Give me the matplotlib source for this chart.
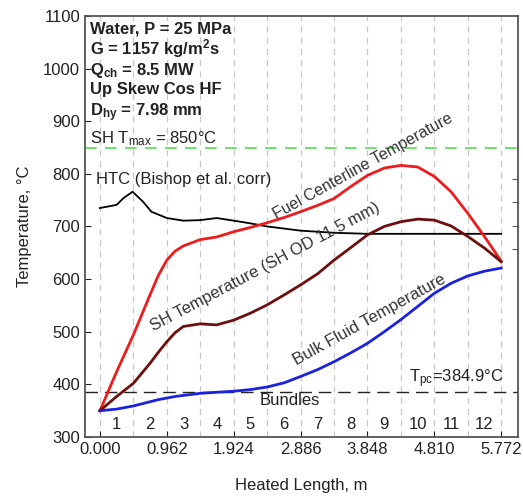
import matplotlib
matplotlib.use("Agg")
import matplotlib.pyplot as plt

plt.rcParams['font.family'] = ['Liberation Sans', 'DejaVu Sans']
plt.rcParams['mathtext.fontset'] = 'custom'
plt.rcParams['mathtext.rm'] = 'Liberation Sans'
plt.rcParams['mathtext.it'] = 'Liberation Sans'
plt.rcParams['mathtext.bf'] = 'Liberation Sans:bold'

# ---- data ----
x_len = [0.0, 0.24, 0.481, 0.72, 0.84, 0.962, 1.08, 1.20, 1.443, 1.68, 1.924, 2.16, 2.405, 2.65,
         2.886, 3.13, 3.367, 3.61, 3.848, 4.09, 4.329, 4.57, 4.810, 5.05, 5.291, 5.53, 5.772]
fuel_T = [350, 424, 494, 570, 607, 636, 653, 663, 675, 680, 690, 698, 707, 717,
          728, 740, 753, 776, 797, 811, 816, 813, 795, 766, 725, 681, 634]
sh_T = [350, 377, 402, 440, 461, 481, 498, 510, 515, 513, 522, 535, 551, 570,
        589, 610, 636, 660, 684, 700, 709, 714, 712, 701, 681, 659, 633]
bulk_T = [350, 353, 359, 367, 371, 374, 377, 379, 383, 385, 387, 390, 395, 403,
          415, 428, 443, 460, 478, 500, 523, 548, 573, 592, 606, 615, 621]
htc_x = [0.0, 0.24, 0.34, 0.47, 0.62, 0.74, 0.962, 1.20, 1.443, 1.68, 1.924, 2.16, 2.405,
         2.65, 2.886, 3.13, 3.367, 3.61, 3.848, 4.329, 4.810, 5.291, 5.772]
htc_T = [735, 741, 754, 766, 747, 728, 716, 711, 712, 716, 711, 706, 700,
         696, 692, 690, 688, 687, 686, 686, 686, 686, 686]

x_ticks = [0.000, 0.962, 1.924, 2.886, 3.848, 4.810, 5.772]
x_ticklabels = ["0.000", "0.962", "1.924", "2.886", "3.848", "4.810", "5.772"]
y_ticks = [300, 400, 500, 600, 700, 800, 900, 1000, 1100]
bundle_edges = [0.0, 0.481, 0.962, 1.443, 1.924, 2.405, 2.886, 3.367, 3.848, 4.329, 4.810, 5.291, 5.772]
bundle_labels = [str(i) for i in range(1, 13)]
sh_tmax = 850
t_pc = 384.9
right_ticks = [657, 701, 747, 790]

# ---- figure ----
fig = plt.figure(figsize=(5.23, 4.97), dpi=100)
ax = fig.add_axes([0.1625, 0.1207, 0.8275, 0.8473])
ax.set_xlim(-0.215, 6.01)
ax.set_ylim(300, 1100)

for xe in bundle_edges:
    ax.axvline(xe, color='#c8c8c8', lw=0.9, ls=(0, (5, 4)), zorder=1)

ax.axhline(sh_tmax, color='#55dd55', lw=1.2, ls=(0, (7, 5)), zorder=2)
ax.axhline(t_pc, color='#222222', lw=1.0, ls=(0, (9, 5)), zorder=2)

ax.plot(htc_x, htc_T, color='black', lw=1.3, zorder=3)
ax.plot(x_len, fuel_T, color='#ee1c1c', lw=2.0, zorder=4)
ax.plot(x_len, sh_T, color='#6e0e0e', lw=2.0, zorder=4)
ax.plot(x_len, bulk_T, color='#1a22e0', lw=2.0, zorder=4)

# bundle numbers
for i, lab in enumerate(bundle_labels):
    xc = (bundle_edges[i] + bundle_edges[i + 1]) / 2
    ax.text(xc, 323, lab, ha='center', va='center', fontsize=12, color='#222222')

ax.set_xticks(x_ticks)
ax.set_xticklabels(x_ticklabels)
ax.set_yticks(y_ticks)
ax.tick_params(direction='in', labelsize=12, colors='#222222', length=4)
for s in ax.spines.values():
    s.set_color('#555555')
    s.set_linewidth(1.3)

ax2 = ax.twinx()
ax2.set_ylim(300, 1100)
ax2.set_yticks(right_ticks)
ax2.set_yticklabels([])
ax2.tick_params(direction='in', length=4, colors='#555555')
for s in ax2.spines.values():
    s.set_visible(False)

ax.set_xlabel("Heated Length, m", fontsize=12, labelpad=15, color='#222222')
ax.set_ylabel("Temperature, °C", fontsize=12, labelpad=8, color='#222222')

# text block
info = ["Water, P = 25 MPa", "G = 1157 kg/m$^\\mathbf{2}$s", "Q$_\\mathbf{ch}$ = 8.5 MW",
        "Up Skew Cos HF", "D$_\\mathbf{hy}$ = 7.98 mm"]
ys = [1076, 1038, 997, 960, 917]
for t, yy in zip(info, ys):
    ax.text(-0.14, yy, t, fontsize=12, fontweight='bold', ha='left', va='center', color='#222222')
ax.text(-0.14, 867, "SH T$_\\mathrm{max}$ = 850°C", fontsize=12, ha='left', va='center', color='#222222')
ax.text(-0.06, 790, "HTC (Bishop et al. corr)", fontsize=12, ha='left', va='center', color='#222222')

ax.text(3.78, 815, "Fuel Centerline Temperature", fontsize=11.5, rotation=29, ha='center', va='center',
        color='#333333', rotation_mode='anchor')
ax.text(2.37, 624, "SH Temperature (SH OD 11.5 mm)", fontsize=12, rotation=28, ha='center', va='center',
        color='#333333', rotation_mode='anchor')
ax.text(3.87, 522, "Bulk Fluid Temperature", fontsize=12, rotation=29, ha='center', va='center',
        color='#333333', rotation_mode='anchor')
ax.text(5.13, 410, "T$_\\mathrm{pc}$=384.9°C", fontsize=12, ha='center', va='center', color='#222222')
ax.text(2.73, 370, "Bundles", fontsize=12, ha='center', va='center', color='#222222')

fig.savefig("out.png", dpi=100)
